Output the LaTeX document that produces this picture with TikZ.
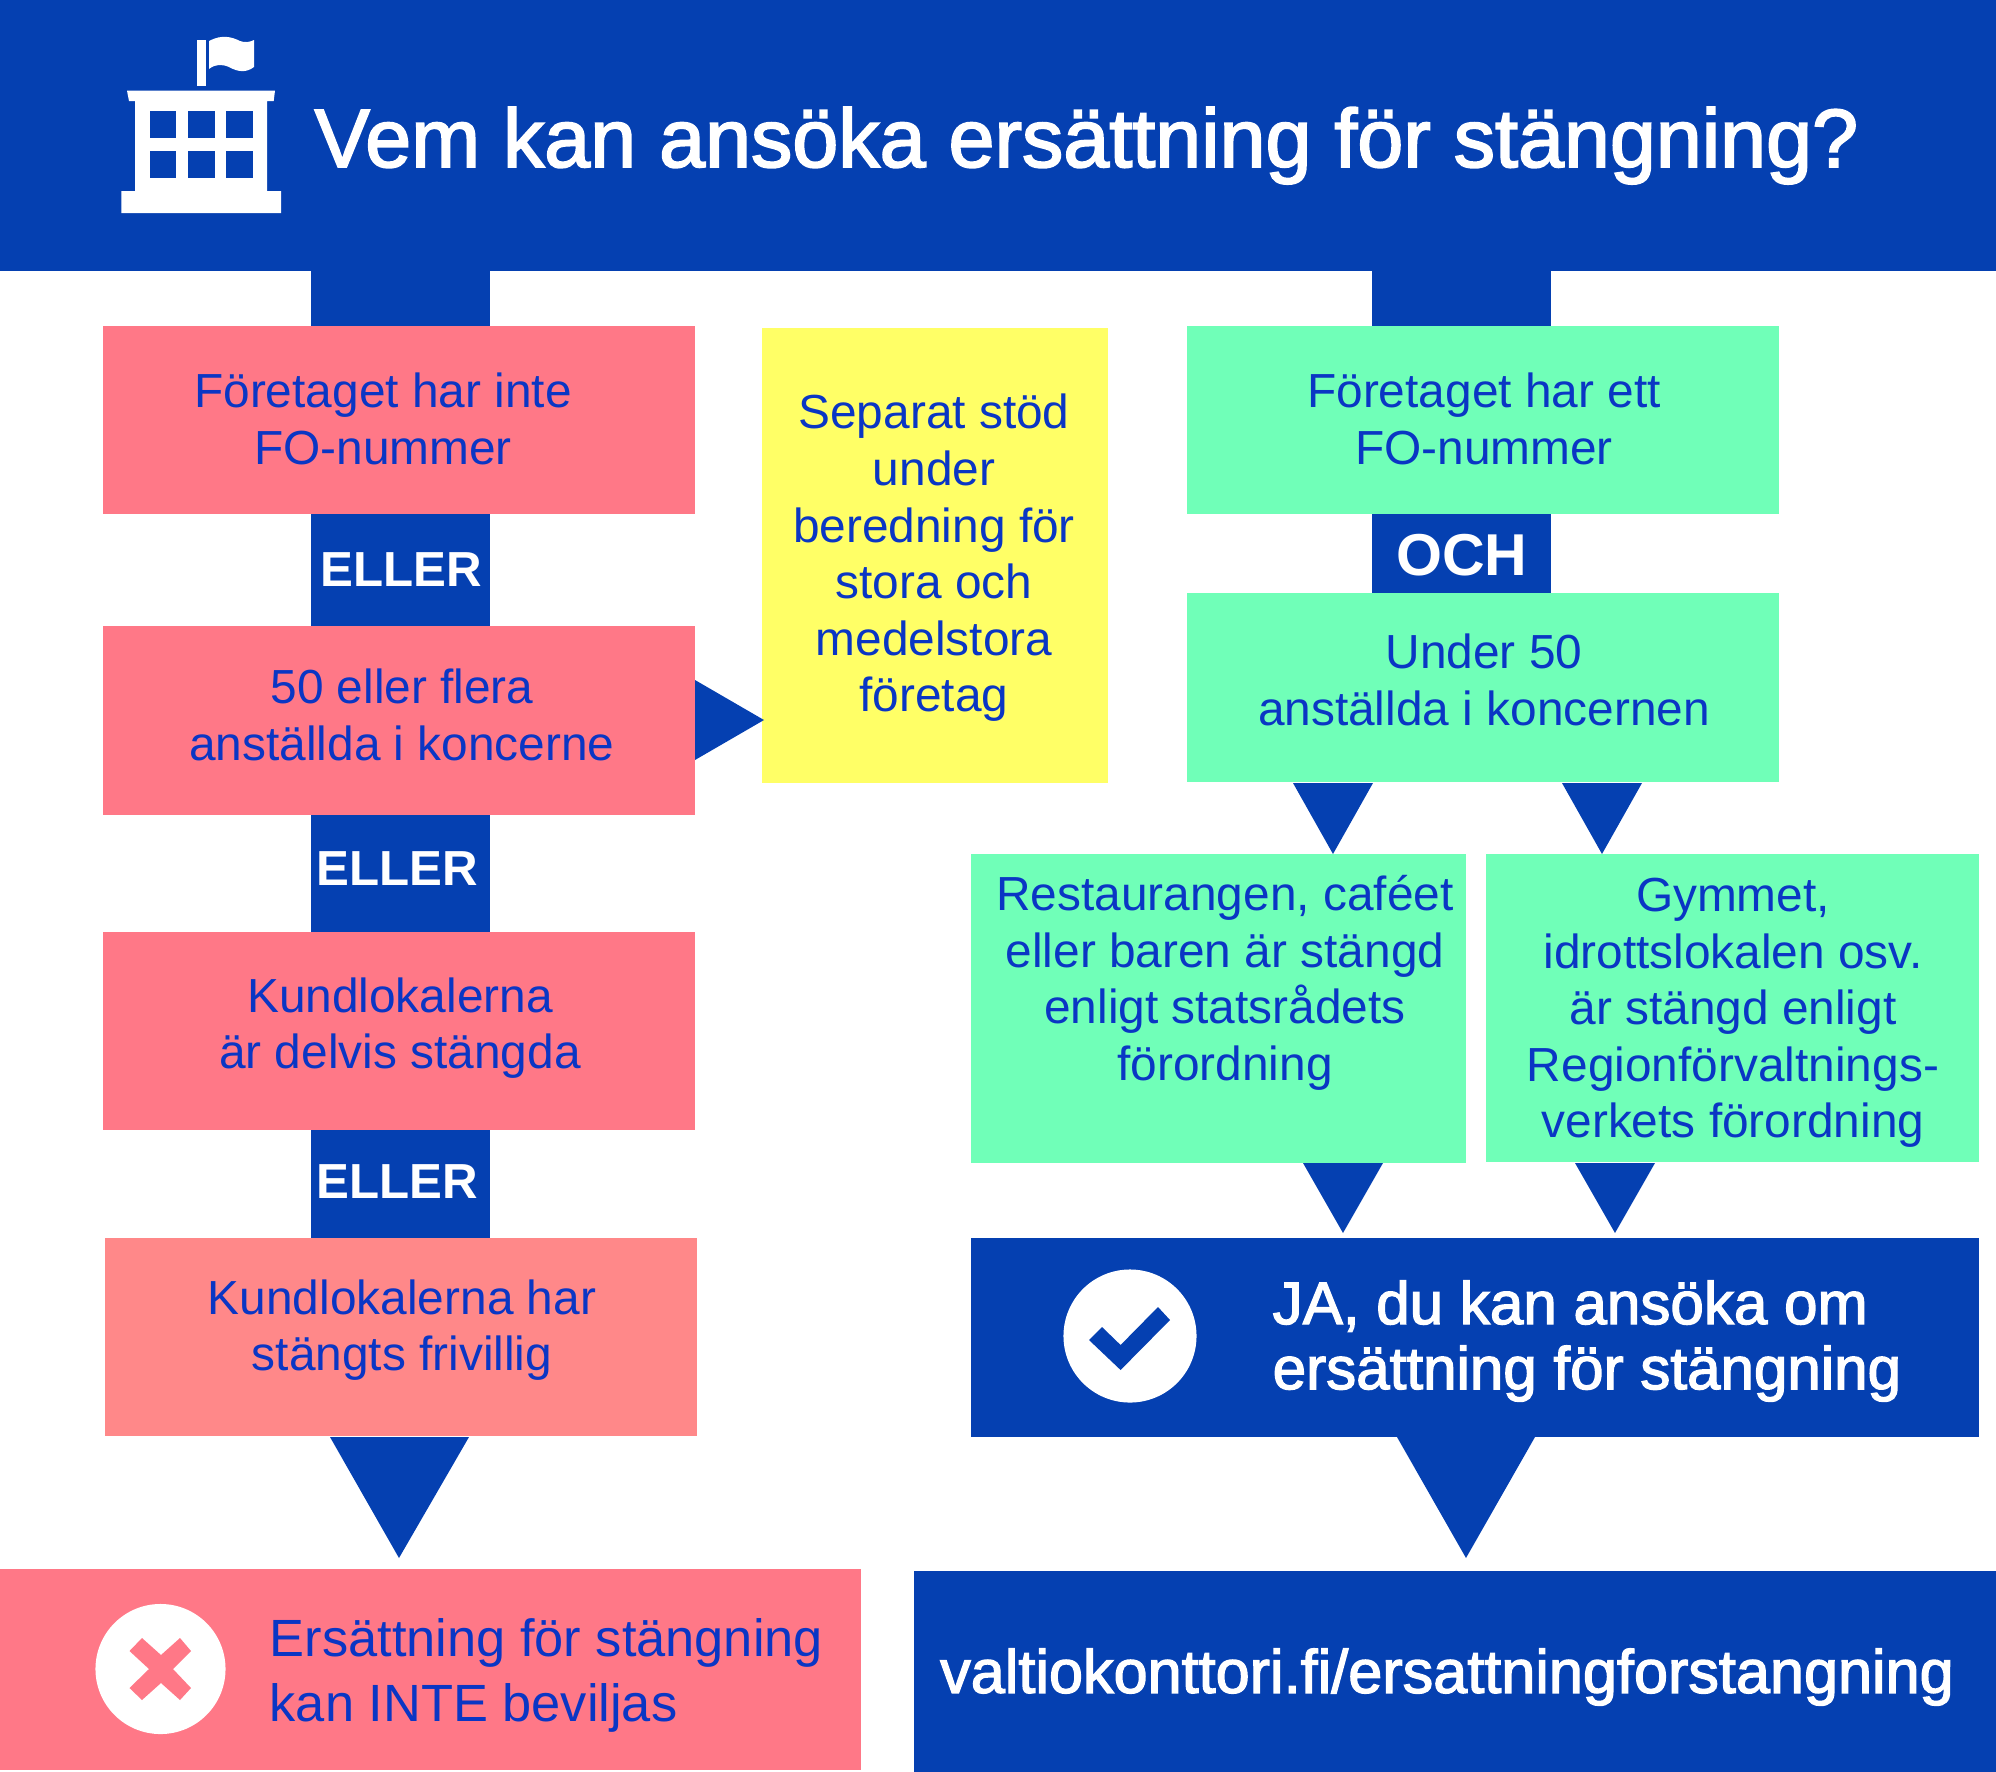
\documentclass[tikz,border=0pt]{standalone}
\usepackage{fontspec}
\setmainfont{Liberation Sans}
\newfontfamily\mediumfont[FakeBold=2.2]{Liberation Sans}
\usepackage{xcolor}
\definecolor{navy}{HTML}{0540B1}
\definecolor{inkblue}{HTML}{0A36C4}
\definecolor{redbox}{HTML}{FF7887}
\definecolor{redlight}{HTML}{FF8889}
\definecolor{greenbox}{HTML}{70FFB8}
\definecolor{yellowbox}{HTML}{FFFF66}
\tikzset{
  box/.style={rectangle,draw=none,inner sep=0pt,outer sep=0pt},
  bodytext/.style={text=inkblue,align=center,inner sep=0pt,font=\fontsize{13.6}{16.1}\selectfont},
  bigtext/.style={align=left,inner sep=0pt,anchor=west,font=\fontsize{14.9}{18.5}\selectfont},
  logic/.style={text=white,inner sep=0pt,font=\bfseries\fontsize{14}{18}\selectfont},
}
\begin{document}
\begin{tikzpicture}[x=0.01cm,y=-0.01cm]
	\useasboundingbox (0,0) rectangle (1996,1772);

	% bars
	\begin{scope}[every node/.style={box,fill=navy}]
	    \node[minimum width=19.96cm,minimum height=2.71cm] (head) at (998,135.5) {};
	    \node[minimum width=1.79cm,minimum height=0.56cm]  (stemL) at (400.5,298.5) {};
	    \node[minimum width=1.79cm,minimum height=0.56cm]  (stemR) at (1461.5,298.5) {};
	    \node[minimum width=1.79cm,minimum height=1.13cm]  (bar1) at (400.5,570) {};
	    \node[minimum width=1.79cm,minimum height=1.18cm]  (bar2) at (400.5,873.5) {};
	    \node[minimum width=1.79cm,minimum height=1.09cm]  (bar3) at (400.5,1184) {};
	    \node[minimum width=1.79cm,minimum height=0.81cm]  (bar4) at (1461.5,553.5) {};
	    \node[minimum width=10.08cm,minimum height=1.99cm] (yes) at (1475,1337.5) {};
	    \node[minimum width=10.82cm,minimum height=2.01cm] (url) at (1455,1671.5) {};
	\end{scope}

	% boxes
	\begin{scope}[every node/.style={box,minimum width=5.92cm}]
	    \node[fill=redbox,minimum height=1.88cm] (red1) at (399,420) {};
	    \node[fill=redbox,minimum height=1.89cm] (red2) at (399,720.5) {};
	    \node[fill=redbox,minimum height=1.98cm] (red3) at (399,1031) {};
	    \node[fill=redlight,minimum height=1.98cm] (red4) at (401,1337) {};
	    \node[fill=greenbox,minimum height=1.88cm] (green1) at (1483,420) {};
	    \node[fill=greenbox,minimum height=1.89cm] (green2) at (1483,687.5) {};
	\end{scope}
	\node[box,fill=yellowbox,minimum width=3.46cm,minimum height=4.55cm] (yellow) at (935,555.5) {};
	\node[box,fill=greenbox,minimum width=4.95cm,minimum height=3.09cm] (green3) at (1218.5,1008.5) {};
	\node[box,fill=greenbox,minimum width=4.93cm,minimum height=3.08cm] (green4) at (1732.5,1008) {};
	\node[box,fill=redbox,minimum width=8.61cm,minimum height=2.01cm] (no) at (430.5,1669.5) {};

	% arrow heads
	\fill[navy] (330,1437) -- (469,1437) -- (399,1558) -- cycle;
	\fill[navy] (1397,1437) -- (1535,1437) -- (1466,1558) -- cycle;
	\fill[navy] (1293,783) -- (1373,783) -- (1333,854) -- cycle;
	\fill[navy] (1562,783) -- (1642,783) -- (1602,854) -- cycle;
	\fill[navy] (1303,1163) -- (1383,1163) -- (1343,1233) -- cycle;
	\fill[navy] (1575,1163) -- (1655,1163) -- (1615,1233) -- cycle;
	\fill[navy] (695,680) -- (764,720) -- (695,760) -- cycle;

	% building
	\begin{scope}[white]
	    \fill (197.3,40) rectangle (205.7,86);
	    \fill (209,41) .. controls (222,34) and (232,37) .. (240,41) .. controls (245,43) and (250,42) .. (254,40) -- (254,67) .. controls (246,73) and (238,72) .. (229,67) .. controls (222,64) and (215,64) .. (209,69) -- cycle;
	    \fill (127,90.7) -- (275,90.7) -- (273.7,101) -- (267,101) -- (267,191) -- (281,191) -- (281,213) -- (121.3,213) -- (121.3,191) -- (135,191) -- (135,101) -- (129,101) -- cycle;
	\end{scope}
	\foreach \wx in {149.7,188,226}
	    \foreach \wy in {111.3,151.3}
	        \fill[navy] (\wx,\wy) rectangle ++(26.7,27);

	% badges
	\node[circle,fill=white,inner sep=0pt,minimum size=1.30cm] (cross) at (160.5,1669) {};
	\fill[redbox] (142,1638) -- (161,1655) -- (180,1638) -- (191,1651) -- (173,1669) -- (191,1688) -- (180,1700) -- (161,1683) -- (142,1700) -- (129.5,1688) -- (149,1669) -- (129.5,1651) -- cycle;
	\node[circle,fill=white,inner sep=0pt,minimum size=1.33cm] (check) at (1130,1336) {};
	\fill[navy] (1089,1340) -- (1102,1327) -- (1120.6,1345) -- (1158,1307) -- (1170,1320) -- (1120.6,1370) -- cycle;

	% texts
	\node[text=white,inner sep=0pt,anchor=base west,font=\mediumfont\fontsize{23.5}{28}\selectfont] (title) at (314,167) {Vem kan ansöka ersättning för stängning?};
	\begin{scope}[every node/.style={bodytext}]
	    \node (red1text) at (383,419) {Företaget har inte\\FO-nummer};
	    \node (red2text) at (402,715) {50 eller flera\\anställda i koncerne};
	    \node (red3text) at (400,1028) {Kundlokalerna\\är delvis stängda};
	    \node (red4text) at (402,1330) {Kundlokalerna har\\stängts frivillig};
	    \node (yellowtext) at (934,558) {Separat stöd\\under\\beredning för\\stora och\\medelstora\\företag};
	    \node (green1text) at (1484,419) {Företaget har ett\\FO-nummer};
	    \node (green2text) at (1484,680) {Under 50\\anställda i koncernen};
	    \node (green3text) at (1225,983) {Restaurangen, caféet\\eller baren är stängd\\enligt statsrådets\\förordning};
	    \node (green4text) at (1733,1013) {Gymmet,\\idrottslokalen osv.\\är stängd enligt\\Regionförvaltnings-\\verkets förordning};
	\end{scope}
	\begin{scope}[every node/.style={logic}]
	    \node (or1) at (401,570) {ELLER};
	    \node (or2) at (397,869) {ELLER};
	    \node (or3) at (397,1182) {ELLER};
	    \node[font=\bfseries\fontsize{16.8}{20}\selectfont] (and1) at (1462,555) {OCH};
	\end{scope}
	\node[bigtext,text=inkblue] (notext) at (269,1675) {Ersättning för stängning\\kan INTE beviljas};
	\node[bigtext,text=white,font=\mediumfont\fontsize{17.1}{18.5}\selectfont] (yestext) at (1272,1341) {JA, du kan ansöka om\\ersättning för stängning};
	\node[text=white,inner sep=0pt,font=\mediumfont\fontsize{17.4}{18}\selectfont] (urltext) at (1447,1677) {valtiokonttori.fi/ersattningforstangning};
\end{tikzpicture}
\end{document}
